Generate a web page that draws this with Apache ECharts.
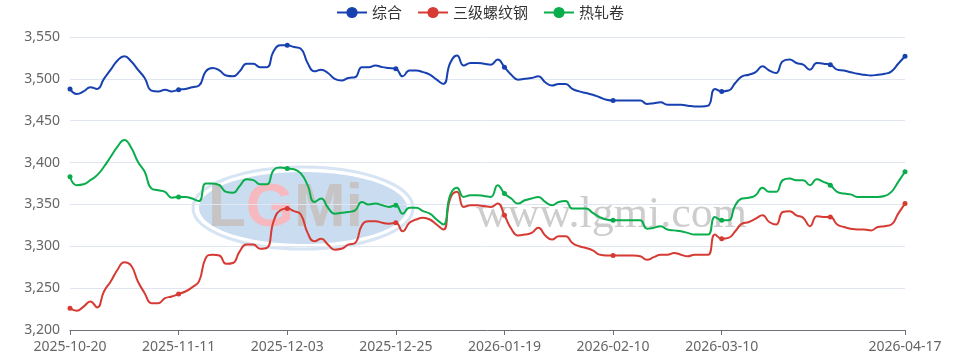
<!DOCTYPE html>
<html><head><meta charset="utf-8">
<script src="https://cdn.jsdelivr.net/npm/echarts@6/dist/echarts.min.js"></script>
<style>html,body{margin:0;padding:0;background:#fff}#c{width:960px;height:361px}</style>
</head><body><div id="c"></div>
<script>
var categories = [
 '2025-10-20','2025-10-21','2025-10-22','2025-10-23','2025-10-24','2025-10-27','2025-10-28','2025-10-29','2025-10-30','2025-10-31',
 '2025-11-03','2025-11-04','2025-11-05','2025-11-06','2025-11-07','2025-11-10','2025-11-11','2025-11-12','2025-11-13','2025-11-14',
 '2025-11-17','2025-11-18','2025-11-19','2025-11-20','2025-11-21','2025-11-24','2025-11-25','2025-11-26','2025-11-27','2025-11-28',
 '2025-12-01','2025-12-02','2025-12-03','2025-12-04','2025-12-05','2025-12-08','2025-12-09','2025-12-10','2025-12-11','2025-12-12',
 '2025-12-15','2025-12-16','2025-12-17','2025-12-18','2025-12-19','2025-12-22','2025-12-23','2025-12-24','2025-12-25','2025-12-26',
 '2025-12-29','2025-12-30','2025-12-31',
 '2026-01-04','2026-01-05','2026-01-06','2026-01-07','2026-01-08','2026-01-09','2026-01-12','2026-01-13','2026-01-14','2026-01-15',
 '2026-01-16','2026-01-19','2026-01-20','2026-01-21','2026-01-22','2026-01-23','2026-01-26','2026-01-27','2026-01-28','2026-01-29','2026-01-30',
 '2026-02-02','2026-02-03','2026-02-04','2026-02-05','2026-02-06','2026-02-09','2026-02-10','2026-02-11','2026-02-12','2026-02-13',
 '2026-02-14','2026-02-24','2026-02-25','2026-02-26','2026-02-27','2026-02-28',
 '2026-03-02','2026-03-03','2026-03-04','2026-03-05','2026-03-06','2026-03-09','2026-03-10','2026-03-11','2026-03-12','2026-03-13',
 '2026-03-16','2026-03-17','2026-03-18','2026-03-19','2026-03-20','2026-03-23','2026-03-24','2026-03-25','2026-03-26','2026-03-27',
 '2026-03-30','2026-03-31',
 '2026-04-01','2026-04-02','2026-04-03','2026-04-07','2026-04-08','2026-04-09','2026-04-10','2026-04-13','2026-04-14','2026-04-15',
 '2026-04-16','2026-04-17'
];
var seriesNames = ['综合', '三级螺纹钢', '热轧卷'];
var composite = [
 3488,3482,3485,3490,3488,3500,3511,3522,3527,3521,3511,3501,3486,3485,3487,3485,3487,3488,3490,3492,3509,
 3513,3510,3504,3503,3509,3518,3518,3514,3514,3533,3540,3540,3538,3536,3519,3509,3511,3507,3500,3498,3501,
 3502,3514,3514,3516,3514,3513,3512,3503,3510,3510,3508,3505,3499,3494,3519,3528,3516,3519,3519,3518,
 3517,3523,3514,3505,3499,3500,3501,3503,3496,3492,3494,3494,3488,3485,3483,3481,3478,3475,3474,3474,3474,
 3474,3474,3470,3471,3472,3469,3469,3469,3468,3467,3467,3468,3488,3485,3486,3495,3503,3505,3508,3515,
 3510,3507,3521,3523,3519,3517,3511,3519,3518,3517,3511,3510,3508,3506,3505,3504,3505,3506,3509,3518,3527
];
var rebar = [
 3226,3223,3228,3234,3227,3246,3258,3272,3281,3277,3258,3244,3232,3232,3238,3240,3243,3246,3251,3258,3286,
 3290,3289,3279,3280,3294,3302,3302,3297,3298,3330,3343,3345,3342,3338,3316,3306,3309,3302,3296,3297,3302,
 3304,3325,3330,3330,3328,3327,3328,3318,3328,3332,3334,3332,3326,3320,3357,3365,3347,3349,3349,3348,
 3347,3351,3337,3321,3313,3314,3316,3322,3313,3308,3312,3312,3304,3300,3298,3295,3290,3289,3289,3289,3289,
 3289,3288,3284,3287,3290,3290,3292,3290,3288,3290,3290,3290,3314,3309,3310,3318,3327,3329,3333,3337,
 3329,3326,3341,3342,3337,3334,3324,3336,3335,3335,3326,3323,3321,3320,3320,3319,3323,3324,3326,3339,3351
];
var hotRolled = [
 3383,3373,3374,3379,3385,3395,3407,3419,3427,3418,3401,3389,3369,3367,3365,3358,3359,3359,3357,3354,3375,
 3375,3373,3365,3364,3372,3380,3379,3374,3374,3391,3394,3393,3392,3387,3373,3353,3357,3346,3339,3340,3341,
 3343,3353,3350,3351,3349,3347,3349,3339,3346,3346,3342,3339,3332,3326,3361,3370,3359,3361,3361,3360,
 3359,3373,3363,3357,3351,3355,3357,3359,3353,3349,3353,3354,3345,3345,3345,3340,3335,3332,3331,3331,3331,
 3331,3331,3321,3322,3324,3320,3319,3318,3316,3314,3314,3314,3335,3331,3331,3349,3357,3358,3361,3370,
 3365,3365,3379,3381,3379,3379,3373,3380,3377,3373,3365,3363,3362,3359,3359,3359,3359,3360,3365,3377,3389
];
var yTicks = {min: 3200, max: 3550, step: 50};
var colors = ['#1740b0', '#d63a32', '#0aad4c'];

var last = categories.length - 1;
var hiddenLabel = categories[112];
var chart = echarts.init(document.getElementById('c'), null, {renderer: 'canvas'});
function mk(name, data, color) {
  return {
    name: name, type: 'line', data: data, smooth: true,
    symbol: 'circle', symbolSize: 5, showAllSymbol: 'auto',
    lineStyle: {width: 2, color: color}, itemStyle: {color: color},
    z: 3
  };
}
chart.setOption({
  animation: false,
  color: colors,
  textStyle: {fontFamily: '"Noto Sans", "Noto Sans CJK SC", sans-serif'},
  legend: {
    top: 0, left: 'center', itemWidth: 30, itemHeight: 14, itemGap: 15,
    textStyle: {fontSize: 15, color: '#333', fontFamily: '"Noto Sans CJK SC", sans-serif'},
    data: seriesNames
  },
  grid: {left: 70, right: 55, top: 37, bottom: 31, containLabel: false},
  graphic: [
    {type: 'ellipse', z: -10, silent: true, shape: {cx: 303, cy: 208, rx: 110, ry: 41},
     style: {fill: 'none', stroke: '#d6e4f3', lineWidth: 3}},
    {type: 'ellipse', z: -10, silent: true, shape: {cx: 303, cy: 208, rx: 104, ry: 36},
     style: {fill: '#cadcef'}},
    {type: 'text', z: -9, silent: true, x: 208, y: 240,
     style: {text: '{a|L}{b|G}{a|Mi}', fontSize: 62, fontWeight: 'bold', fontFamily: '"Liberation Sans", Arial, sans-serif',
       verticalAlign: 'bottom',
       rich: {a: {fill: '#c6c4c4', fontSize: 62, fontWeight: 'bold', fontFamily: '"Liberation Sans", Arial, sans-serif'},
              b: {fill: '#f6b9c0', fontSize: 62, fontWeight: 'bold', fontFamily: '"Liberation Sans", Arial, sans-serif'}}}},
    {type: 'text', z: -9, silent: true, x: 476, y: 193,
     style: {text: 'www.lgmi.com', fontSize: 44, fontFamily: '"Liberation Serif", "DejaVu Serif", serif',
       fill: '#cdcdcd', verticalAlign: 'top'}}
  ],
  xAxis: {
    type: 'category', data: categories, boundaryGap: false,
    axisLine: {lineStyle: {color: '#6e7079'}},
    axisTick: {interval: function (i) { return (i % 16 === 0 && i !== 112) || i === last; }},
    axisLabel: {
      fontSize: 14, color: '#666', margin: 10,
      interval: function (i) { return i % 16 === 0 || i === last; },
      formatter: function (v) { return v === hiddenLabel ? '' : v; }
    }
  },
  yAxis: {
    type: 'value', min: yTicks.min, max: yTicks.max, interval: yTicks.step,
    axisLabel: {fontSize: 14, color: '#666', margin: 10},
    splitLine: {lineStyle: {color: '#e0e6f1'}}
  },
  series: [mk(seriesNames[0], composite, colors[0]), mk(seriesNames[1], rebar, colors[1]), mk(seriesNames[2], hotRolled, colors[2])]
});
</script></body></html>
